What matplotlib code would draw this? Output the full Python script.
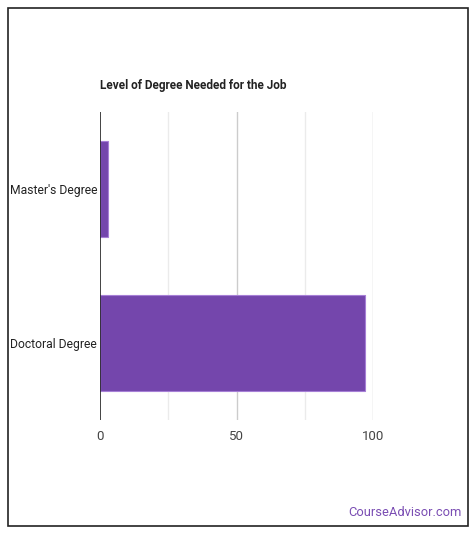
import matplotlib.pyplot as plt
from matplotlib.patches import Rectangle

plt.rcParams['font.family'] = ['Roboto', 'DejaVu Sans']

categories = ["Master's Degree", "Doctoral Degree"]
values = [3, 97]
ticks = [0, 50, 100]
minor_ticks = [25, 75]

W, H = 476, 536
fig = plt.figure(figsize=(W / 100, H / 100), dpi=100)

# outer frame
fig.patches.append(Rectangle((8 / W, 1 - 526 / H), 460 / W, 518 / H,
                             transform=fig.transFigure, fill=False,
                             edgecolor='#222222', linewidth=1.2))

ax = fig.add_axes([100 / W, 1 - 420 / H, 273 / W, 308 / H])
y = list(range(len(categories)))
ax.barh(y, values, height=0.62, color='#7446ac', edgecolor='#a67fd6', linewidth=0.8, zorder=3)
ax.set_ylim(len(categories) - 0.5, -0.5)
ax.set_xlim(0, 100)

for t in ticks[1:]:
    ax.axvline(t, color='#cccccc', linewidth=1, zorder=1)
for t in minor_ticks:
    ax.axvline(t, color='#ebebeb', linewidth=1, zorder=1)
ax.axvline(0, color='#222222', linewidth=1.2, zorder=4)

ax.set_xticks(ticks)
ax.set_xticklabels([str(t) for t in ticks], fontsize=9.5, color='#444444')
ax.set_yticks(y)
ax.set_yticklabels(categories, fontsize=8.7, color='#222222')
ax.tick_params(length=0, pad=7)
ax.tick_params(axis='y', pad=2)
for s in ax.spines.values():
    s.set_visible(False)

fig.text(100 / W, 1 - 86 / H, 'Level of Degree Needed for the Job', fontsize=8.5,
         fontweight='bold', color='#222222', va='center', ha='left')
fig.text(462 / W, 1 - 513 / H, 'CourseAdvisor.com', fontsize=9.3,
         color='#7a4db3', va='center', ha='right')

fig.savefig('out.png', dpi=100)
